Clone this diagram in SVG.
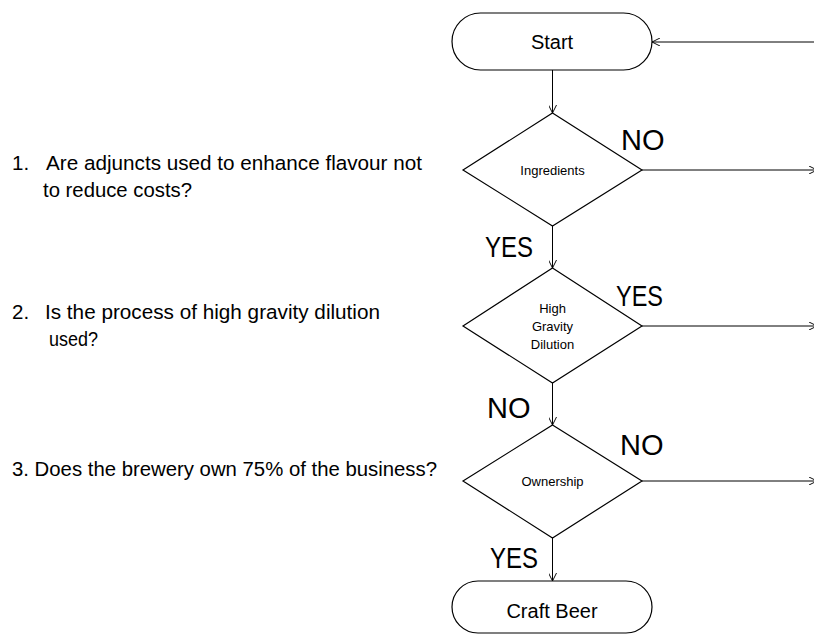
<svg xmlns="http://www.w3.org/2000/svg" width="814" height="635" viewBox="0 0 814 635">
<style>
text{font-family:"Liberation Sans",Arial,sans-serif;fill:#000}
.shape{fill:#fff;stroke:#000;stroke-width:1.2}
.conn{fill:none;stroke:#000;stroke-width:1}
.q{font-size:20.5px}
.lbl{font-size:29px}
.big{font-size:20px}
.small{font-size:13px}
</style>
<defs>
<marker id="arr" viewBox="0 0 10 10" refX="10" refY="5" markerWidth="8" markerHeight="8" markerUnits="userSpaceOnUse" orient="auto">
<path d="M0,0 L10,5 L0,10" fill="none" stroke="#000" stroke-width="1.2"/>
</marker>
</defs>
<rect width="814" height="635" fill="#fff"/>
<g id="connectors">
<line class="conn" x1="552.5" y1="70" x2="552.5" y2="113" marker-end="url(#arr)"/>
<line class="conn" x1="552.5" y1="226" x2="552.5" y2="268" marker-end="url(#arr)"/>
<line class="conn" x1="552.5" y1="383" x2="552.5" y2="425" marker-end="url(#arr)"/>
<line class="conn" x1="552.5" y1="538" x2="552.5" y2="581" marker-end="url(#arr)"/>
<line class="conn" x1="642" y1="170" x2="817" y2="170" marker-end="url(#arr)"/>
<line class="conn" x1="642" y1="326" x2="817" y2="326" marker-end="url(#arr)"/>
<line class="conn" x1="642" y1="481" x2="817" y2="481" marker-end="url(#arr)"/>
<line class="conn" x1="814" y1="42" x2="652" y2="42" marker-end="url(#arr)"/>
</g>
<g id="start">
<rect class="shape" x="452" y="13" width="200" height="57" rx="28.5"/>
<text class="big" x="552" y="49" text-anchor="middle">Start</text>
</g>
<g id="ingredients">
<polygon class="shape" points="552.5,113 642,170 552.5,226 463,170"/>
<text class="small" x="552.5" y="175" text-anchor="middle">Ingredients</text>
</g>
<g id="high-gravity">
<polygon class="shape" points="552.5,268 642,326 552.5,383 463,326"/>
<text class="small" x="552.5" y="313" text-anchor="middle">High</text>
<text class="small" x="552.5" y="331" text-anchor="middle">Gravity</text>
<text class="small" x="552.5" y="349" text-anchor="middle">Dilution</text>
</g>
<g id="ownership">
<polygon class="shape" points="552.5,425 642,481 552.5,538 463,481"/>
<text class="small" x="552.5" y="486" text-anchor="middle">Ownership</text>
</g>
<g id="craft-beer">
<rect class="shape" x="452" y="581" width="200" height="52" rx="26"/>
<text class="big" x="552" y="618" text-anchor="middle">Craft Beer</text>
</g>
<g id="labels">
<text class="lbl" x="621" y="150">NO</text>
<text class="lbl" x="485" y="257" textLength="48" lengthAdjust="spacingAndGlyphs">YES</text>
<text class="lbl" x="616" y="306" textLength="47" lengthAdjust="spacingAndGlyphs">YES</text>
<text class="lbl" x="487" y="418">NO</text>
<text class="lbl" x="620" y="455">NO</text>
<text class="lbl" x="490" y="568" textLength="48" lengthAdjust="spacingAndGlyphs">YES</text>
</g>
<g id="questions">
<text class="q" x="12" y="170">1.</text>
<text class="q" x="46" y="170" textLength="376" lengthAdjust="spacingAndGlyphs">Are adjuncts used to enhance flavour not</text>
<text class="q" x="43" y="197" textLength="149" lengthAdjust="spacingAndGlyphs">to reduce costs?</text>
<text class="q" x="12" y="319">2.</text>
<text class="q" x="45" y="319" textLength="335" lengthAdjust="spacingAndGlyphs">Is the process of high gravity dilution</text>
<text class="q" x="49" y="346" textLength="49" lengthAdjust="spacingAndGlyphs">used?</text>
<text class="q" x="12" y="476" textLength="425" lengthAdjust="spacingAndGlyphs">3. Does the brewery own 75% of the business?</text>
</g>
</svg>
